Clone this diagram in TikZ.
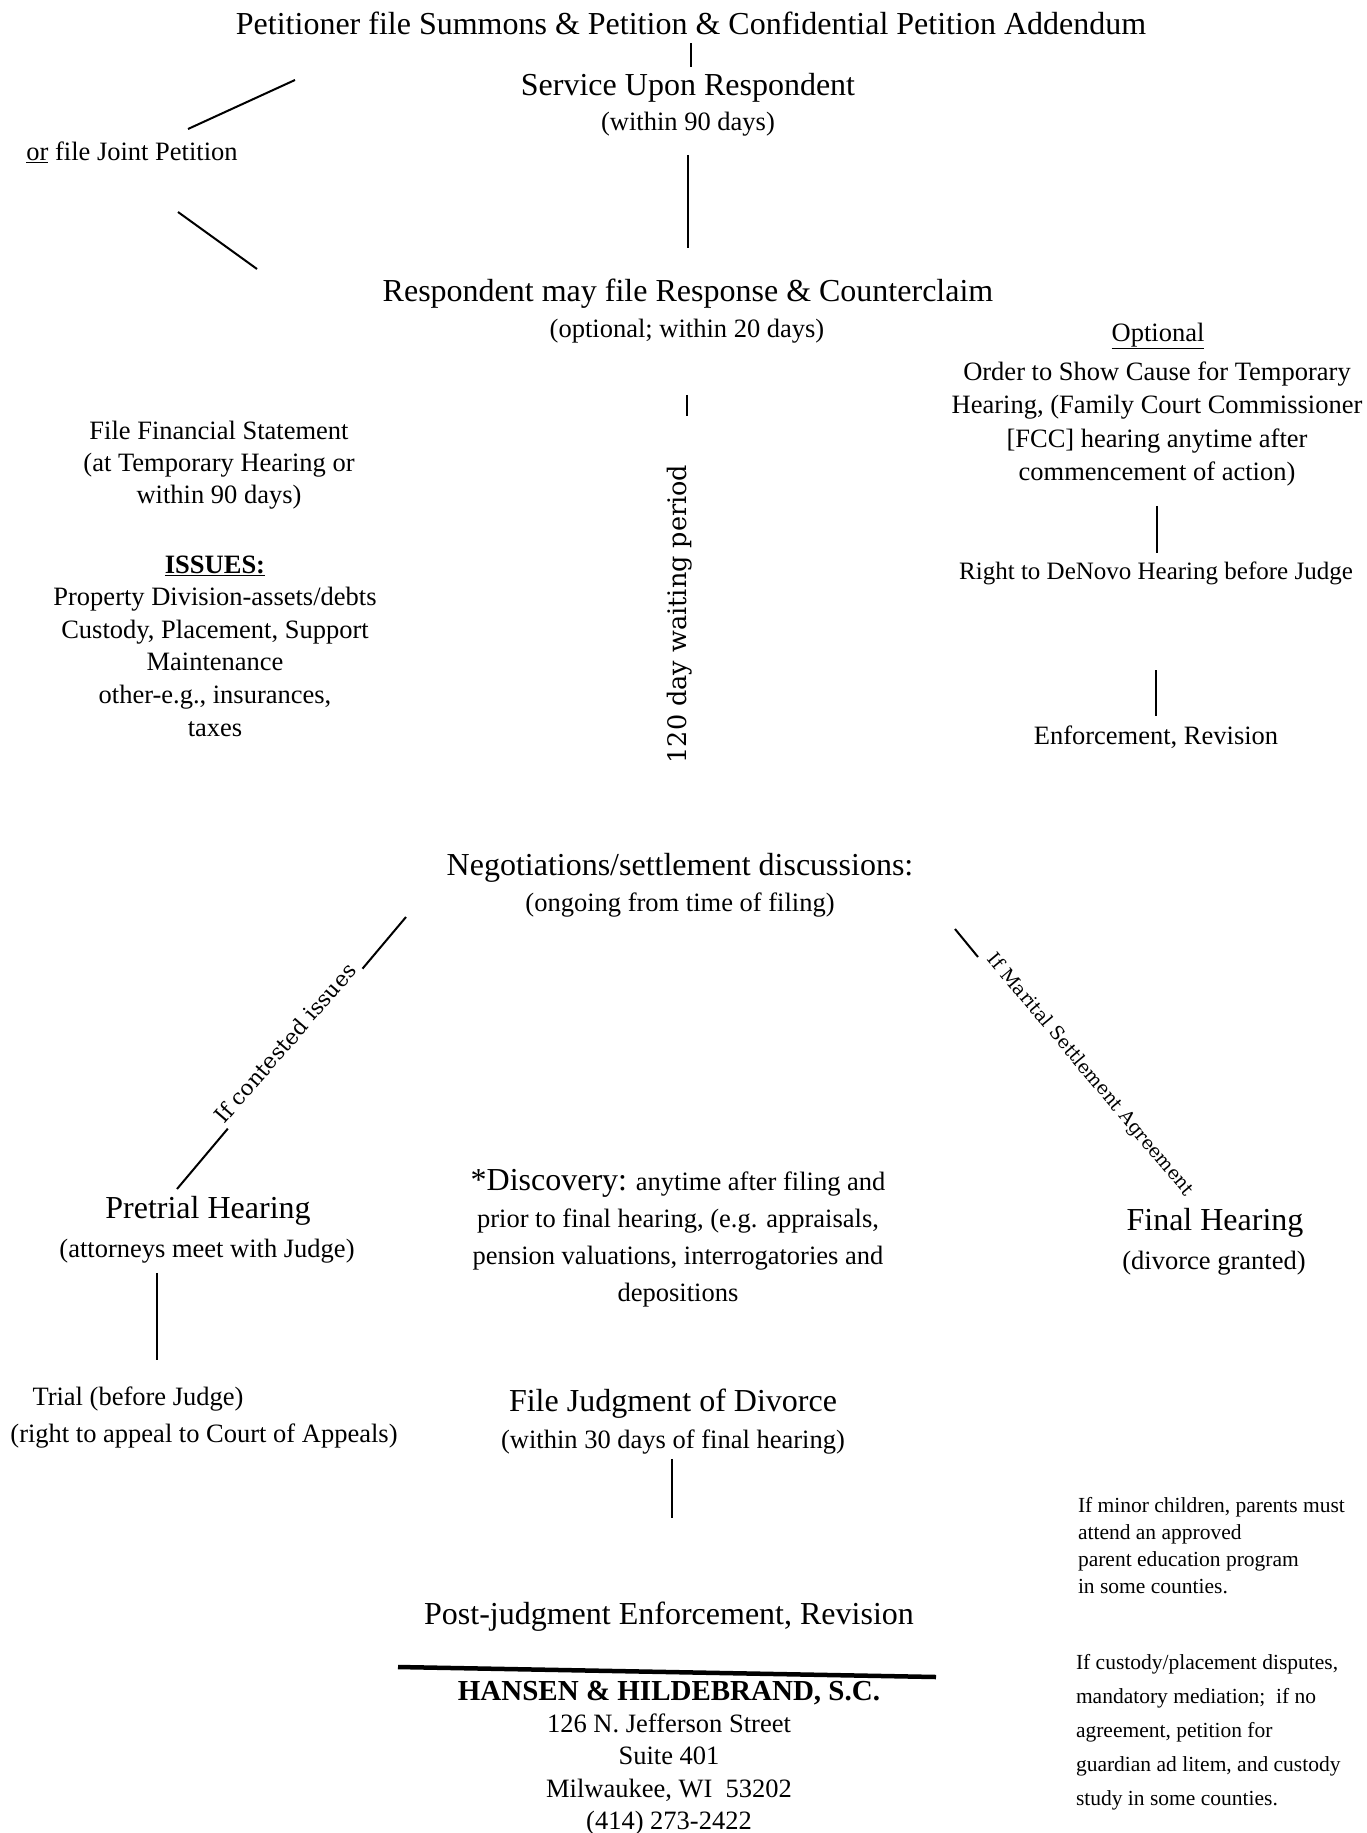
\documentclass[tikz,border=0pt]{standalone}
\usepackage{fontspec}
\setmainfont{Liberation Serif}
\newfontfamily\slabfont{DejaVu Serif}
\usetikzlibrary{calc}
\newcommand{\fsz}[2]{\fontsize{#1}{#2}\selectfont}
\begin{document}
\begin{tikzpicture}[x=1pt,y=-1pt,
  every node/.style={inner sep=0pt, outer sep=0pt},
  big/.style={font=\fsz{32}{38}},
  sub/.style={font=\fsz{26.5}{33}},
  note/.style={font=\fsz{21.5}{27}},
  conn/.style={line width=2.4pt},
  diag/.style={line width=2pt},
  lbl/.style={font=\slabfont\fsz{21.5}{26}}]
\useasboundingbox (0,0) rectangle (1367,1833);
\fill[white] (0,0) rectangle (1367,1833);

% top part
\node[big] (title) at (691,23) {Petitioner file Summons \& Petition \& Confidential Petition Addendum};
\node[big] (svc) at (688,88) {Service Upon Respondent};
\node[sub] (svcsub) at (688,124) {(within 90 days)};
\node[sub] (joint) at (132,152) {\underline{or} file Joint Petition};
\node[big] (resp) at (688,294) {Respondent may file Response \& Counterclaim};
\node[sub] (respsub) at (687,331) {(optional; within 20 days)};
\node[font=\slabfont\fsz{25.5}{30}, rotate=90] (wait) at (680,614) {120 day waiting period};

% left column
\node[align=center, font=\fsz{26.5}{32}] (fin) at (219,465) {File Financial Statement\\(at Temporary Hearing or\\within 90 days)};
\node[align=center, font=\fsz{26.5}{32.6}] (issues) at (215,646) {\underline{\textbf{ISSUES:}}\\Property Division-assets/debts\\Custody, Placement, Support\\Maintenance\\other-e.g., insurances,\\taxes};

% right column
\node[sub] (opt) at (1158,336) {\underline{Optional}};
\node[align=center, font=\fsz{26.5}{33.3}] (osc) at (1157,424) {Order to Show Cause for Temporary\\Hearing, (Family Court Commissioner\\{[FCC]} hearing anytime after\\commencement of action)};
\node[font=\fsz{25}{30}] (denovo) at (1156,573) {Right to DeNovo Hearing before Judge};
\node[sub] (enf) at (1156,737) {Enforcement, Revision};

% middle
\node[big] (neg) at (680,868) {Negotiations/settlement discussions:};
\node[sub] (negsub) at (680,905) {(ongoing from time of filing)};
\node[big] (pre) at (208,1211) {Pretrial Hearing};
\node[sub] (presub) at (207,1251) {(attorneys meet with Judge)};
\node[sub] (trial) at (138,1399) {Trial (before Judge)};
\node[sub] (trialsub) at (204,1436) {(right to appeal to Court of Appeals)};
\node[align=center, font=\fsz{26.5}{37}] (disc) at (678,1238) {{\fsz{32}{37}*Discovery:} anytime after filing and\\prior to final hearing, (e.g. appraisals,\\pension valuations, interrogatories and\\depositions};
\node[big] (finh) at (1215,1223) {Final Hearing};
\node[sub] (finhsub) at (1214,1263) {(divorce granted)};
\node[big] (judg) at (673,1404) {File Judgment of Divorce};
\node[sub] (judgsub) at (673,1442) {(within 30 days of final hearing)};
\node[big] (post) at (669,1617) {Post-judgment Enforcement, Revision};
\node[align=center, font=\fsz{26.5}{32.25}] (firm) at (669,1758) {{\bfseries\fsz{29}{32.25}HANSEN \& HILDEBRAND, S.C.}\\126 N. Jefferson Street\\Suite 401\\Milwaukee, WI\ \ 53202\\(414) 273-2422};
\node[note, align=left, anchor=west] (minor) at (1078,1546) {If minor children, parents must\\attend an approved\\parent education program\\in some counties.};
\node[align=left, anchor=west, font=\fsz{21.5}{34}] (cust) at (1076,1732) {If custody/placement disputes,\\mandatory mediation;\ \ if no\\agreement, petition for\\guardian ad litem, and custody\\study in some counties.};

% rule above firm name
\coordinate (r1) at (398,1667);
\coordinate (r2) at (936,1677);
\draw[line width=4.5pt] (r1) -- (r2);

% vertical connectors
\coordinate (xl) at (157,0);
\coordinate (xj) at (672,0);
\draw[conn, shorten <=8.7pt, shorten >=6.6pt] (title.south) -- (title.south |- svc.north);
\draw[conn, shorten <=18.7pt, shorten >=31.6pt] (svcsub.south) -- (svcsub.south |- resp.north);
\draw[conn, shorten <=51.7pt, shorten >=48.5pt] (respsub.south) -- (respsub.south |- wait.east);
\draw[conn, shorten <=19.7pt, shorten >=8.8pt] (osc.south) -- (osc.south |- denovo.north);
\draw[conn, shorten <=85.8pt, shorten >=9.2pt] (denovo.south) -- (denovo.south |- enf.north);
\draw[conn, shorten <=9.7pt, shorten >=26.7pt] (presub.south -| xl) -- (trial.north -| xl);
\draw[conn, shorten <=4.7pt, shorten >=84.6pt] (judgsub.south -| xj) -- (post.north -| xj);

% joint petition connectors
\coordinate (j1a) at (295,80);
\coordinate (j1b) at (188,129);
\coordinate (j2a) at (178,212);
\coordinate (j2b) at (257,269);
\draw[diag] (j1a) -- (j1b);
\draw[diag] (j2a) -- (j2b);

% diagonal branches
\coordinate (lt) at (406,917);
\coordinate (lb) at (177,1189);
\draw[diag] (lt) -- ($(lt)!0.19!(lb)$);
\draw[diag] ($(lt)!0.778!(lb)$) -- (lb);
\node[lbl, rotate=49] (contested) at (285,1043) {If contested issues};
\coordinate (rt) at (955,929);
\coordinate (rb) at (978,957);
\draw[diag] (rt) -- (rb);
\node[font=\slabfont\fsz{18.6}{22}, rotate=-50] (msa) at (1090,1075) {If Marital Settlement Agreement};
\end{tikzpicture}
\end{document}
